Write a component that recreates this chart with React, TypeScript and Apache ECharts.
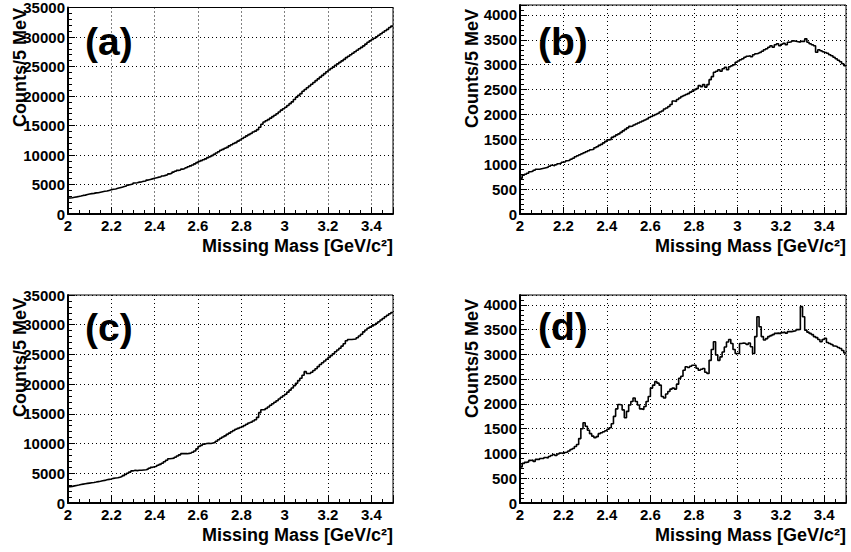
import React, { useEffect, useRef } from "react";
import * as echarts from "echarts";

// Histogram binning (GeV)
const massMin = 2.0;
const massMax = 3.5;
const binWidth = 0.01;

const xTickInterval = 0.2;

// Panel (a) counts per 5 MeV, one value per 10 MeV step starting at 2.00
const countsA = [
  2700, 2760, 2850, 2900, 2980, 3050, 3150, 3200, 3300, 3380,
  3450, 3500, 3580, 3600, 3700, 3780, 3850, 3900, 4000, 4100,
  4200, 4250, 4350, 4450, 4550, 4650, 4750, 4900, 5000, 5100,
  5250, 5300, 5400, 5450, 5550, 5600, 5750, 5850, 5950, 6050,
  6150, 6250, 6300, 6450, 6550, 6650, 6800, 6900, 7100, 7250,
  7400, 7450, 7600, 7700, 7850, 8000, 8150, 8300, 8500, 8700,
  8900, 9050, 9200, 9350, 9550, 9700, 9900, 10100, 10350, 10550,
  10800, 10950, 11150, 11300, 11550, 11750, 11950, 12100, 12350, 12550,
  12800, 13000, 13250, 13450, 13650, 13900, 14050, 14300, 14700, 15200,
  15600, 15800, 16000, 16250, 16500, 16750, 17000, 17300, 17600, 17850,
  18100, 18400, 18700, 19000, 19400, 19800, 20100, 20400, 20800, 21100,
  21400, 21700, 22000, 22300, 22600, 22900, 23200, 23500, 23800, 24100,
  24400, 24650, 24900, 25200, 25450, 25700, 25950, 26200, 26500, 26750,
  27000, 27250, 27500, 27750, 28000, 28250, 28500, 28800, 29100, 29350,
  29600, 29800, 30050, 30300, 30550, 30800, 31050, 31300, 31600, 31850,
];

const countsB = [
  720, 780, 800, 820, 850, 860, 880, 900, 900, 910,
  920, 930, 940, 960, 980, 970, 990, 1010, 1020, 1040,
  1050, 1070, 1080, 1100, 1120, 1150, 1170, 1190, 1210, 1230,
  1250, 1270, 1290, 1300, 1330, 1350, 1380, 1400, 1430, 1460,
  1490, 1500, 1540, 1560, 1590, 1610, 1640, 1670, 1700, 1730,
  1760, 1770, 1790, 1810, 1830, 1850, 1870, 1890, 1910, 1940,
  1960, 1980, 2000, 2020, 2050, 2070, 2110, 2130, 2160, 2200,
  2270, 2260, 2300, 2330, 2360, 2380, 2400, 2420, 2450, 2470,
  2500, 2520, 2580, 2560, 2600, 2550, 2600, 2700, 2760, 2850,
  2870, 2900, 2870, 2920, 2950, 2900, 2960, 2980, 3000, 3050,
  3075, 3100, 3120, 3150, 3170, 3180, 3160, 3200, 3220, 3230,
  3245, 3270, 3300, 3320, 3350, 3380, 3350, 3400, 3420, 3380,
  3410, 3430, 3400, 3450, 3460, 3480, 3470, 3460, 3450, 3470,
  3470, 3520, 3450, 3420, 3400, 3380, 3250, 3300, 3280, 3260,
  3245, 3230, 3200, 3180, 3150, 3120, 3090, 3060, 3020, 2980,
];

const countsC = [
  2740, 2800, 2880, 2950, 3020, 3100, 3180, 3250, 3300, 3350,
  3400, 3450, 3520, 3600, 3650, 3750, 3800, 3900, 3980, 4050,
  4150, 4200, 4250, 4350, 4450, 4600, 4800, 5000, 5200, 5400,
  5500, 5450, 5500, 5500, 5550, 5600, 5700, 5850, 6000, 6100,
  6200, 6350, 6500, 6700, 6950, 7200, 7450, 7500, 7550, 7700,
  7900, 8100, 8300, 8300, 8300, 8350, 8400, 8550, 8750, 9100,
  9500, 9700, 9900, 10000, 10050, 10000, 10100, 10200, 10400, 10650,
  10900, 11100, 11300, 11550, 11750, 12000, 12200, 12400, 12550, 12700,
  12850, 13050, 13250, 13450, 13600, 13800, 14000, 14400, 15200, 15700,
  15700, 15900, 16150, 16450, 16700, 16950, 17200, 17500, 17800, 18050,
  18300, 18650, 19000, 19350, 19750, 20150, 20600, 21000, 21500, 22100,
  21800, 21800, 22000, 22300, 22600, 22950, 23300, 23600, 23900, 24200,
  24500, 24800, 25100, 25450, 25750, 26050, 26400, 26800, 27300, 27500,
  27500, 27550, 27600, 27800, 28100, 28400, 28800, 29100, 29400, 29600,
  29800, 30000, 30250, 30500, 30800, 31050, 31350, 31600, 31850, 32050,
];

const countsD = [
  730, 800, 820, 830, 860, 870, 840, 880, 880, 900,
  900, 920, 910, 940, 960, 980, 960, 990, 1010, 1000,
  1020, 1030, 1050, 1080, 1100, 1140, 1180, 1300, 1500, 1620,
  1550, 1470, 1400, 1350, 1320, 1340, 1400, 1420, 1440, 1460,
  1490, 1520, 1600, 1750, 1900, 1990, 1980, 1880, 1720, 1850,
  1980, 2050, 2120, 2050, 1980, 1900, 1890, 1950, 2050, 2150,
  2320, 2380, 2450, 2420, 2380, 2150, 2120, 2200, 2250, 2300,
  2320, 2300, 2400, 2520, 2560, 2680, 2750, 2735, 2760, 2780,
  2780, 2720, 2680, 2700, 2715, 2640, 2615, 2880, 3100, 3257,
  2990, 2880, 2950, 3050, 3150, 3250, 3300, 3220, 3100, 3020,
  3020, 3220, 3230, 3220, 3200, 3230, 3155, 3020, 3360, 3760,
  3560, 3360, 3290, 3320, 3360, 3380, 3400, 3425, 3430, 3420,
  3440, 3450, 3430, 3460, 3460, 3470, 3480, 3500, 3505, 3965,
  3760, 3490, 3450, 3425, 3400, 3360, 3340, 3300, 3255, 3300,
  3325, 3240, 3220, 3200, 3170, 3160, 3140, 3120, 3080, 3030,
];

const panelLabels = ["(a)", "(b)", "(c)", "(d)"];
const yMaxima = [35000, 4200, 35000, 4200];
const yIntervals = [5000, 500, 5000, 500];
const yTitle = "Counts/5 MeV";
const xTitle = "Missing Mass [GeV/c\u00B2]";

const FONT = '"Liberation Sans", Arial, Helvetica, sans-serif';

function toHist(counts: number[]): number[][] {
  const pts = counts.map((v, i) => [+(massMin + i * binWidth).toFixed(3), v]);
  pts.push([massMax, counts[counts.length - 1]]);
  return pts;
}

const grids = [
  { left: 68, top: 5, width: 325, height: 209 },
  { left: 520, top: 5, width: 326, height: 209 },
  { left: 68, top: 295, width: 325, height: 208 },
  { left: 520, top: 295, width: 326, height: 208 },
];

// annotation placement per panel
const yTitlePos = [
  { x: 20, y: 8 },
  { x: 472, y: 9 },
  { x: 20, y: 298 },
  { x: 472, y: 299 },
];
const labelPos = [
  { x: 85, y: 41 },
  { x: 538, y: 41 },
  { x: 85, y: 327 },
  { x: 538, y: 326 },
];

export default function App() {
  const ref = useRef<HTMLDivElement>(null);

  useEffect(() => {
    if (!ref.current) return;
    const chart = echarts.init(ref.current, undefined, { renderer: "svg" });
    const allCounts = [countsA, countsB, countsC, countsD];

    const labelStyle = {
      color: "#000",
      fontSize: 15,
      fontWeight: "bold" as const,
      fontFamily: FONT,
    };

    const xAxes = grids.map((_, i) => ({
      type: "value",
      gridIndex: i,
      min: massMin,
      max: massMax,
      interval: xTickInterval,
      axisLine: { show: true, onZero: false, lineStyle: { color: "#000", width: 2 } },
      axisTick: { show: true, inside: true, length: 7, lineStyle: { color: "#000", width: 1 } },
      minorTick: { show: true, splitNumber: 4, length: 4, lineStyle: { color: "#000", width: 1 } },
      splitLine: { show: true, lineStyle: { color: "#000", width: 1, type: [1, 3] } },
      axisLabel: {
        ...labelStyle,
        margin: 4,
        showMaxLabel: false,
        formatter: (v: number) => String(+v.toFixed(1)),
      },
    }));

    const yAxes = grids.map((_, i) => ({
      type: "value",
      gridIndex: i,
      min: 0,
      max: yMaxima[i],
      interval: yIntervals[i],
      axisLine: { show: true, onZero: false, lineStyle: { color: "#000", width: 2 } },
      axisTick: { show: true, inside: true, length: 7, lineStyle: { color: "#000", width: 1 } },
      minorTick: { show: true, splitNumber: 5, length: 4, lineStyle: { color: "#000", width: 1 } },
      splitLine: { show: true, lineStyle: { color: "#000", width: 1, type: [1, 3] } },
      axisLabel: {
        ...labelStyle,
        margin: 3,
        showMaxLabel: yMaxima[i] % yIntervals[i] === 0,
        formatter: (v: number) => String(Math.round(v)),
      },
    }));

    const series = allCounts.map((c, i) => ({
      type: "line",
      xAxisIndex: i,
      yAxisIndex: i,
      data: toHist(c),
      step: "end",
      showSymbol: false,
      silent: true,
      lineStyle: { color: "#000", width: 1.6 },
    }));

    const graphics: any[] = [];
    grids.forEach((g, i) => {
      graphics.push({
        type: "text",
        x: yTitlePos[i].x,
        y: yTitlePos[i].y,
        rotation: Math.PI / 2,
        style: {
          text: yTitle,
          fill: "#000",
          font: `bold 18px ${FONT}`,
          align: "right",
          verticalAlign: "middle",
        },
      });
      graphics.push({
        type: "text",
        x: g.left + g.width,
        y: g.top + g.height + 32,
        style: {
          text: xTitle,
          fill: "#000",
          font: `bold 18px ${FONT}`,
          align: "right",
          verticalAlign: "middle",
        },
      });
      graphics.push({
        type: "text",
        x: labelPos[i].x,
        y: labelPos[i].y,
        style: {
          text: panelLabels[i],
          fill: "#000",
          font: `bold 39px ${FONT}`,
          align: "left",
          verticalAlign: "middle",
        },
      });
    });

    chart.setOption({
      animation: false,
      backgroundColor: "#fff",
      grid: grids.map((g) => ({
        ...g,
        show: true,
        borderColor: "#000",
        borderWidth: 1,
        backgroundColor: "transparent",
        containLabel: false,
      })),
      xAxis: xAxes,
      yAxis: yAxes,
      series,
      graphic: graphics,
    });

    return () => chart.dispose();
  }, []);

  return (
    <div
      ref={ref}
      style={{ position: "fixed", left: 0, top: 0, width: 851, height: 552, background: "#fff" }}
    />
  );
}
